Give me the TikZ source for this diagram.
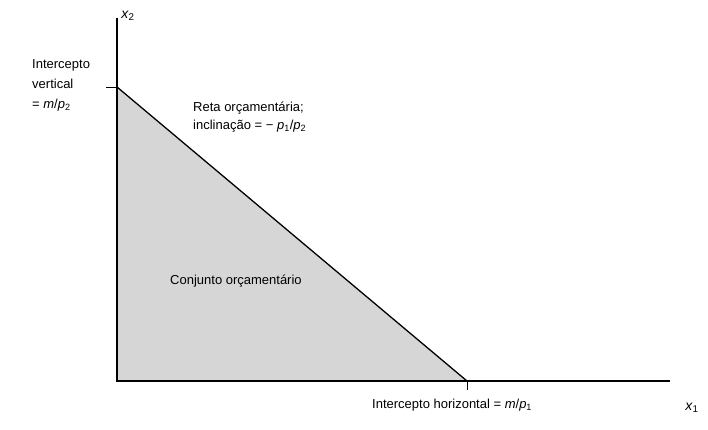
\documentclass[tikz,border=0pt]{standalone}
\usepackage{fontspec}
\setmainfont{Liberation Sans}
\usetikzlibrary{positioning, calc}

\newcommand{\vr}[2]{\textit{#1}\textsubscript{#2}}

\begin{document}
\begin{tikzpicture}[
    x=1pt, y=-1pt,
    axis/.style={line width=1.4pt},
    tickmark/.style={line width=0.6pt},
    lbl/.style={font=\fontsize{13}{19}\selectfont, inner sep=0pt, align=left}
]
\useasboundingbox (0,0) rectangle (708,430);

% pontos
\coordinate (O) at (117,381);
\coordinate (top) at (117,18);
\coordinate (right) at (670,381);
\coordinate (A) at (117,87);
\coordinate (B) at (467,381);
\coordinate (At) at (106,87);
\coordinate (Bt) at (467,390);

% conjunto
\fill[black!16] (O) -- (A) -- (B) -- cycle;
\draw[line width=1.3pt] (A) -- (B);

% eixos
\draw[axis] (top) -- (O) -- (right);
\draw[tickmark] (A) -- (At);
\draw[tickmark] (B) -- (Bt);

\node[lbl, font=\fontsize{14}{16}\selectfont] (x2) at (128,16) {\vr{x}{2}};
\node[lbl, font=\fontsize{14}{16}\selectfont] (x1) at (692,408) {\vr{x}{1}};

\node[lbl, anchor=west, font=\fontsize{13}{20}\selectfont] (vint) at (32,85) {Intercepto\\vertical\\= \textit{m}/\vr{p}{2}};
\node[lbl, anchor=west, font=\fontsize{13}{18}\selectfont] (reta) at (193,117) {Reta orçamentária;\\inclinação = − \vr{p}{1}/\vr{p}{2}};
\node[lbl, anchor=west] (conj) at (170,281) {Conjunto orçamentário};
\node[lbl, anchor=west] (hint) at (372,405) {Intercepto horizontal = \textit{m}/\vr{p}{1}};

\end{tikzpicture}
\end{document}
